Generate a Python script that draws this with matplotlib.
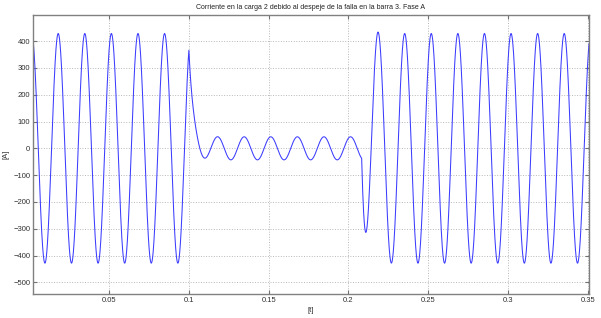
import numpy as np
import matplotlib
matplotlib.use("Agg")
import matplotlib.pyplot as plt

# lecturas del gráfico: tres tramos (antes de la falla, falla, despeje)
SEG_START = [0.0023, 0.100, 0.2083]   # s, inicio de cada tramo
SEG_AMP = [428.0, 43.0, 428.0]        # A, amplitud de régimen
SEG_PEAK = [0.0181, 0.1180, 0.2186]   # s, instante de un máximo del tramo
SEG_TAU = [0.0, 0.0025, 0.0026]       # s, constante de la componente continua
FREQ = 60.0
T_END = 0.3508

X_TICKS = [0.05, 0.1, 0.15, 0.2, 0.25, 0.3, 0.35]
X_LABELS = ["0.05", "0.1", "0.15", "0.2", "0.25", "0.3", "0.35"]
Y_TICKS = [-500, -400, -300, -200, -100, 0, 100, 200, 300, 400]

TITLE = "Corriente en la carga 2 debido al despeje de la falla en la barra 3. Fase A"


def steady(k, tt):
    return SEG_AMP[k] * np.cos(2 * np.pi * FREQ * (tt - SEG_PEAK[k]))


def waveform(t):
    i = np.zeros_like(t)
    dc = [0.0] * len(SEG_START)
    ends = SEG_START[1:] + [T_END + 1]
    for k in range(len(SEG_START)):
        t0, t1 = SEG_START[k], ends[k]
        if k > 0:
            # la corriente es continua en el instante de conmutación
            tp = SEG_START[k - 1]
            prev_val = steady(k - 1, t0)
            if k - 1 > 0:
                prev_val += dc[k - 1] * np.exp(-(t0 - tp) / SEG_TAU[k - 1])
            dc[k] = prev_val - steady(k, t0)
        m = (t >= t0) & (t < t1)
        seg = steady(k, t[m])
        if k > 0:
            seg = seg + dc[k] * np.exp(-(t[m] - t0) / SEG_TAU[k])
        i[m] = seg
    return i


t = np.linspace(SEG_START[0], T_END, 6000)
i = waveform(t)

plt.rcParams["font.family"] = ["Liberation Sans", "DejaVu Sans"]
fig = plt.figure(figsize=(6.01, 3.18), dpi=100)
ax = fig.add_axes([33 / 601, 1 - 294 / 318, (589 - 33) / 601, (294 - 15) / 318])
ax.plot(t, i, color="#3c3cff", lw=0.75)

ax.set_xlim(SEG_START[0], T_END)
ax.set_ylim(-543, 497)
ax.set_xticks(X_TICKS)
ax.set_xticklabels(X_LABELS)
ax.set_yticks(Y_TICKS)
ax.grid(True, ls=":", color="#b8b8b8", lw=0.7)
ax.tick_params(direction="in", top=True, right=True, length=3, width=0.8,
               color="#707070", labelsize=5.5, labelcolor="#303030", pad=2)
for s in ax.spines.values():
    s.set_color("#808080")
    s.set_linewidth(1.0)

ax.set_title(TITLE, fontsize=5.0, color="#202020", pad=4)
ax.set_xlabel("[t]", fontsize=5.5, color="#303030", labelpad=2)
ax.set_ylabel("[A]", fontsize=5.5, color="#303030", labelpad=3)

fig.savefig("out.png", dpi=100)
